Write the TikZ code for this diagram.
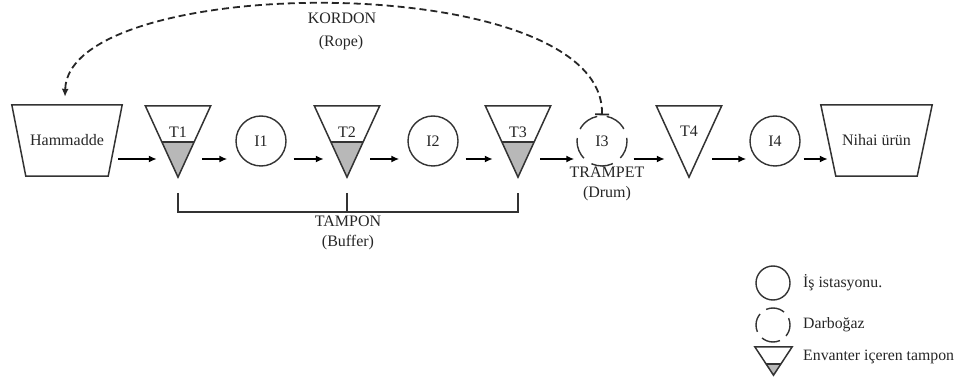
\documentclass[tikz,border=0pt]{standalone}
\usepackage{fontspec}
\setmainfont{Liberation Serif}
\usetikzlibrary{arrows.meta,calc}
\begin{document}
\begin{tikzpicture}[x=1pt,y=-1pt,
  every node/.style={font=\fontsize{16}{18}\selectfont, text=black!85, inner sep=0pt},
  outline/.style={draw=black!80, line width=1.5pt, line join=miter},
  box/.style={rectangle, minimum width=110pt, minimum height=71pt},
  tri/.style={rectangle, minimum width=65pt, minimum height=71pt},
  station/.style={circle, draw=black!80, line width=1.4pt, minimum size=50pt},
  neck/.style={station, dash pattern=on 22pt off 9.4pt, dash phase=18.8pt},
  flow/.style={draw=black, line width=1.8pt, -{Latex[length=8pt,width=7pt]}},
  rope/.style={draw=black!85, line width=1.8pt, dash pattern=on 7pt off 4pt,
    {Bar[width=14pt,line width=1.8pt]}-{Latex[length=8pt,width=7pt]}},
  bracket/.style={draw=black!80, line width=1.4pt},
  shade/.style={fill=black!28},
  legendtext/.style={anchor=west, font=\fontsize{15.8}{18}\selectfont}
]
\useasboundingbox (0,0) rectangle (966,387);

% raw material and final product
\node[box] (ham) at (67,140.5) {Hammadde};
\draw[outline] (ham.north west) -- (ham.north east)
  -- ($(ham.south east)+(-14,0)$) -- ($(ham.south west)+(14,0)$) -- cycle;
\node[box, minimum width=111pt] (nih) at (876.5,140.5) {Nihai ürün};
\draw[outline] (nih.north west) -- (nih.north east)
  -- ($(nih.south east)+(-15,0)$) -- ($(nih.south west)+(15,0)$) -- cycle;

% buffers holding inventory
\foreach \n/\x/\lab in {t1/178/T1, t2/347/T2, t3/518/T3}{
  \node[tri] (\n) at (\x,141.5) {};
  \fill[shade] ($(\n.south)!0.493!(\n.north west)$) -- ($(\n.south)!0.493!(\n.north east)$) -- (\n.south) -- cycle;
  \draw[outline] ($(\n.south)!0.493!(\n.north west)$) -- ($(\n.south)!0.493!(\n.north east)$);
  \draw[outline] (\n.north west) -- (\n.north east) -- (\n.south) -- cycle;
  \node (\n l) at ($(\n.north)+(0,26)$) {\lab};
}
\node[tri] (t4) at (689,141.5) {};
\draw[outline] (t4.north west) -- (t4.north east) -- (t4.south) -- cycle;
\node (t4l) at ($(t4.north)+(0,25)$) {T4};

% work stations
\node[station] (i1) at (261,141) {I1};
\node[station] (i2) at (433,141) {I2};
\node[neck] (i3) at (602,141) {I3};
\node[station] (i4) at (775,141) {I4};

% material flow
\coordinate (flowy) at (0,159);
\draw[flow] ($(ham.east|-flowy)+(-4,0)$) -- ($(t1.west|-flowy)+(11.5,0)$);
\draw[flow] ($(t1.east|-flowy)+(-8.5,0)$) -- ($(i1.west|-flowy)+(-8,0)$);
\draw[flow] ($(i1.east|-flowy)+(7,0)$) -- ($(t2.west|-flowy)+(9.5,0)$);
\draw[flow] ($(t2.east|-flowy)+(-9.5,0)$) -- ($(i2.west|-flowy)+(-8,0)$);
\draw[flow] ($(i2.east|-flowy)+(7,0)$) -- ($(t3.west|-flowy)+(7.5,0)$);
\draw[flow] ($(t3.east|-flowy)+(-10.5,0)$) -- ($(i3.west|-flowy)+(-2,0)$);
\draw[flow] ($(i3.east|-flowy)+(6,0)$) -- ($(t4.west|-flowy)+(8.5,0)$);
\draw[flow] ($(t4.east|-flowy)+(-9.5,0)$) -- ($(i4.west|-flowy)+(-3,0)$);
\draw[flow] ($(i4.east|-flowy)+(3,0)$) -- ($(nih.west|-flowy)+(7,0)$);

% rope from the drum back to raw material release
\draw[rope] (i3.north) .. controls (605,-32) and (68,-28) .. ($(ham.north)+(-2,-8)$);
\node (kordon) at (342,18) {KORDON};
\node (ropel) at (341,43) {(Rope)};

% drum label
\node (trampet) at (607,172) {TRAMPET};
\node (druml) at (607,194) {(Drum)};

% buffer bracket
\coordinate (brtop) at (0,193);
\coordinate (brbot) at (0,212);
\draw[bracket] (t1.south|-brtop) -- (t1.south|-brbot) -- (t3.south|-brbot) -- (t3.south|-brtop);
\draw[bracket] (t2.south|-brtop) -- (t2.south|-brbot);
\node (tampon) at (348,221) {TAMPON};
\node (bufferl) at (348,243) {(Buffer)};

% legend
\node[station, minimum size=34pt] (lgs) at (773,283) {};
\node[legendtext] (lgst) at (803,283) {İş istasyonu.};
\node[station, minimum size=34pt, dash pattern=on 19pt off 7.7pt, dash phase=12pt] (lgd) at (773,325) {};
\node[legendtext] (lgdt) at (803,325) {Darboğaz};
\node[rectangle, minimum width=37pt, minimum height=28pt] (lgt) at (773.5,361) {};
\fill[shade] ($(lgt.south)!0.39!(lgt.north west)$) -- ($(lgt.south)!0.39!(lgt.north east)$) -- (lgt.south) -- cycle;
\draw[outline] ($(lgt.south)!0.39!(lgt.north west)$) -- ($(lgt.south)!0.39!(lgt.north east)$);
\draw[outline] (lgt.north west) -- (lgt.north east) -- (lgt.south) -- cycle;
\node[legendtext] (lgtt) at (803,357) {Envanter içeren tampon};
\end{tikzpicture}
\end{document}
